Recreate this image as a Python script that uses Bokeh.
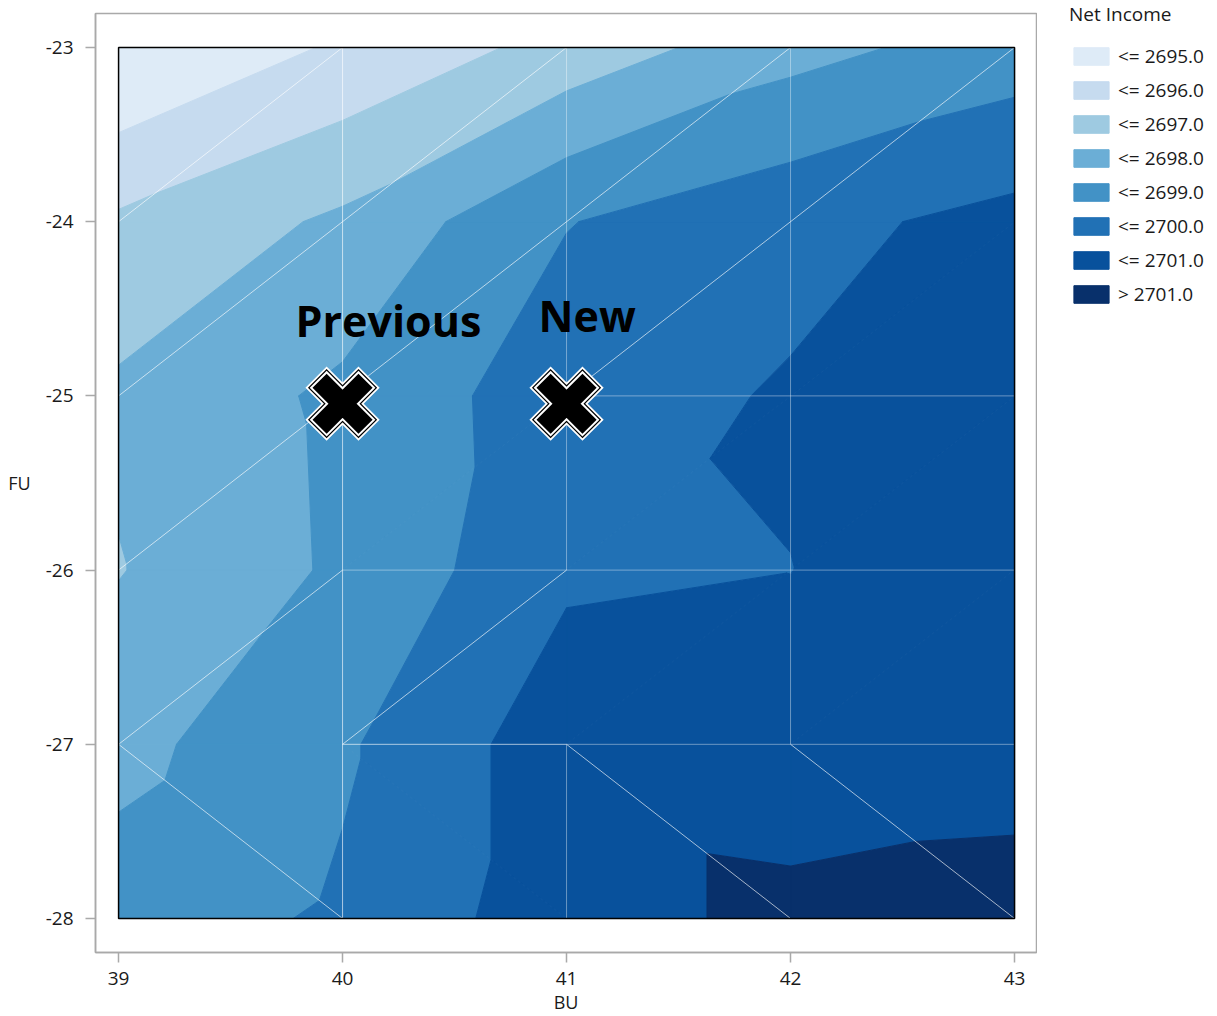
import math

from bokeh.core.properties import value
from bokeh.embed import file_html
from bokeh.layouts import row
from bokeh.models import (ColumnDataSource, FixedTicker, Legend, LegendItem,
                          PrintfTickFormatter, Range1d)
from bokeh.plotting import figure
from bokeh.resources import INLINE
from bokeh.transform import dodge

# ---- data -------------------------------------------------------------
BU = [39, 40, 41, 42, 43]
FU = [-28, -27, -26, -25, -24, -23]

# Net income at every grid node, one row per FU value (bottom row first)
NET_INCOME = [
    [2698.47, 2699.15, 2700.58, 2701.25, 2701.46],   # FU -28
    [2697.70, 2698.86, 2700.58, 2700.42, 2700.50],   # FU -27
    [2696.955, 2698.16, 2699.84, 2699.99, 2700.70],  # FU -26
    [2697.18, 2698.20, 2699.58, 2700.09, 2700.60],   # FU -25
    [2696.16, 2697.18, 2698.96, 2699.70, 2700.30],   # FU -24
    [2693.89, 2695.15, 2696.35, 2697.65, 2698.48],   # FU -23
]

# direction of the diagonal that splits each cell row into two triangles
ROW_DIAGONAL = ["falling", "rising", "rising", "rising", "rising"]

LEVELS = [2695, 2696, 2697, 2698, 2699, 2700, 2701]
BAND_COLORS = ["#deebf7", "#c6dbef", "#9ecae1", "#6baed6",
               "#4292c6", "#2171b5", "#08519c", "#08306b"]
BAND_LABELS = [f"<= {lv:.1f}" for lv in LEVELS] + [f"> {LEVELS[-1]:.1f}"]

POINT_NAMES = ["Previous", "New"]
POINT_BU = [40, 41]
POINT_FU = [-25, -25]

# mesh edges that show as light seams, as (BU index, FU index) node pairs
SEAMS_BRIGHT = [
    ((1, 0), (1, 5)),
    ((0, 4), (1, 5)), ((0, 3), (2, 5)), ((0, 2), (3, 5)), ((2, 3), (4, 5)),
    ((0, 1), (1, 2)), ((1, 1), (2, 2)),
    ((0, 1), (1, 0)), ((2, 1), (3, 0)), ((3, 1), (4, 0)),
    ((1, 1), (2, 1)),
]
SEAMS_PALE = [
    ((2, 2), (2, 5)), ((2, 0), (2, 1)), ((3, 1), (3, 5)),
    ((2, 3), (4, 3)), ((1, 2), (4, 2)), ((2, 1), (4, 1)),
]


# ---- triangulated filled contours ------------------------------------
def triangles():
    out = []
    for j, kind in enumerate(ROW_DIAGONAL):
        for i in range(len(BU) - 1):
            if kind == "falling":
                out.append([(i, j + 1), (i + 1, j + 1), (i + 1, j)])
                out.append([(i, j + 1), (i, j), (i + 1, j)])
            else:
                out.append([(i, j + 1), (i + 1, j + 1), (i, j)])
                out.append([(i, j), (i + 1, j + 1), (i + 1, j)])
    return out


def clip(pts, zs, level, keep_above):
    new_pts, new_zs = [], []
    n = len(pts)
    for k in range(n):
        p1, z1 = pts[k], zs[k]
        p2, z2 = pts[(k + 1) % n], zs[(k + 1) % n]
        in1 = z1 >= level if keep_above else z1 <= level
        in2 = z2 >= level if keep_above else z2 <= level
        if in1:
            new_pts.append(p1)
            new_zs.append(z1)
        if in1 != in2:
            t = (level - z1) / (z2 - z1)
            new_pts.append((p1[0] + t * (p2[0] - p1[0]), p1[1] + t * (p2[1] - p1[1])))
            new_zs.append(level)
    return new_pts, new_zs


bounds = [-math.inf] + LEVELS + [math.inf]
band_xs = [[] for _ in BAND_COLORS]
band_ys = [[] for _ in BAND_COLORS]
for tri in triangles():
    pts0 = [(BU[i], FU[j]) for i, j in tri]
    zs0 = [NET_INCOME[j][i] for i, j in tri]
    for b in range(len(BAND_COLORS)):
        pts, zs = pts0, zs0
        if bounds[b] > -math.inf:
            pts, zs = clip(pts, zs, bounds[b], True)
        if len(pts) >= 3 and bounds[b + 1] < math.inf:
            pts, zs = clip(pts, zs, bounds[b + 1], False)
        if len(pts) >= 3:
            band_xs[b].append([q[0] for q in pts])
            band_ys[b].append([q[1] for q in pts])

# ---- contour figure ---------------------------------------------------
FONT = "Open Sans"
FRAME_GRAY = "#a9a9a9"
TEXT_COLOR = "#1a1a1a"

p = figure(
    width=1037, height=1016,
    x_range=Range1d(38.897, 43.098), y_range=Range1d(-28.195, -22.805),
    output_backend="svg", toolbar_location=None,
    min_border_left=95, min_border_right=1, min_border_top=13, min_border_bottom=63,
)
p.grid.visible = False
p.outline_line_color = FRAME_GRAY
p.outline_line_width = 1.5
p.background_fill_color = "white"
p.border_fill_color = "white"

for b, color in enumerate(BAND_COLORS):
    p.patches(band_xs[b], band_ys[b], fill_color=color, line_color=color, line_width=1)


def seam_coords(seams):
    xs = [[BU[a[0]], BU[c[0]]] for a, c in seams]
    ys = [[FU[a[1]], FU[c[1]]] for a, c in seams]
    return xs, ys


sx, sy = seam_coords(SEAMS_PALE)
p.multi_line(sx, sy, line_color="white", line_alpha=0.4, line_width=1)
sx, sy = seam_coords(SEAMS_BRIGHT)
p.multi_line(sx, sy, line_color="white", line_alpha=0.8, line_width=0.8)

# border of the gridded region
p.quad(left=min(BU), right=max(BU), bottom=min(FU), top=max(FU),
       fill_alpha=0, line_color="black", line_width=1.5)

# point markers: a heavy X with alternating white / black rims
pts_src = ColumnDataSource(dict(bu=POINT_BU, fu=POINT_FU, name=POINT_NAMES))
for color, size, lw in [("white", 75, 30), ("black", 71.5, 26.4),
                        ("white", 69, 24), ("black", 65, 20)]:
    p.scatter("bu", dodge("fu", -0.045), source=pts_src, marker="x",
              size=size, line_color=color, line_width=lw)

for k, (dx, dy) in enumerate([(-47, -75), (-28, -80)]):
    p.text(x=[POINT_BU[k]], y=[POINT_FU[k]], text=[POINT_NAMES[k]],
           x_offset=dx, y_offset=dy, text_font=value(FONT), text_font_style="bold",
           text_font_size="43px", text_color="black",
           text_align="left", text_baseline="alphabetic")

# axes
for ax in (p.xaxis[0], p.yaxis[0]):
    ax.axis_line_color = FRAME_GRAY
    ax.axis_line_width = 1.5
    ax.major_tick_line_color = FRAME_GRAY
    ax.major_tick_line_width = 1.5
    ax.major_tick_out = 10
    ax.major_tick_in = 0
    ax.minor_tick_line_color = None
    ax.major_label_text_font = FONT
    ax.major_label_text_font_size = "19px"
    ax.major_label_text_color = TEXT_COLOR
    ax.axis_label_text_font = FONT
    ax.axis_label_text_font_size = "18px"
    ax.axis_label_text_font_style = "normal"
    ax.axis_label_text_color = TEXT_COLOR
    ax.formatter = PrintfTickFormatter(format="%d")

p.xaxis.ticker = FixedTicker(ticks=BU)
p.yaxis.ticker = FixedTicker(ticks=FU)
p.xaxis.axis_label = "BU"
p.yaxis.axis_label = "FU"
p.yaxis.axis_label_orientation = "horizontal"
p.xaxis.major_label_standoff = 9
p.yaxis.major_label_standoff = 12
p.xaxis.axis_label_standoff = 2
p.yaxis.axis_label_standoff = 12

# ---- legend panel -----------------------------------------------------
# the band polygons sit outside this panel's view; only the legend shows
lg = figure(
    width=180, height=1016, output_backend="svg", toolbar_location=None,
    x_range=Range1d(0, 1), y_range=Range1d(0, 1),
    x_axis_location=None, y_axis_location=None, min_border=0,
)
lg.frame_align = False
lg.outline_line_color = None
lg.grid.visible = False
lg.border_fill_color = "white"
lg.background_fill_color = "white"
swatches = [lg.patches(band_xs[b], band_ys[b], fill_color=c, line_color=c, line_width=1)
            for b, c in enumerate(BAND_COLORS)]

legend = Legend(
    items=[LegendItem(label=lab, renderers=[r]) for lab, r in zip(BAND_LABELS, swatches)],
    location=(32, 709),
    title="Net Income",
    title_text_font=FONT, title_text_font_size="19px", title_text_font_style="normal",
    title_text_color=TEXT_COLOR, title_standoff=16,
    label_text_font=FONT, label_text_font_size="19px", label_text_color=TEXT_COLOR,
    glyph_width=44, glyph_height=22, label_height=18, label_standoff=5,
    spacing=8, padding=0, margin=0,
    border_line_alpha=0, background_fill_alpha=0,
)
lg.add_layout(legend, "center")

open("out.html", "w").write(file_html(row(p, lg), INLINE))
